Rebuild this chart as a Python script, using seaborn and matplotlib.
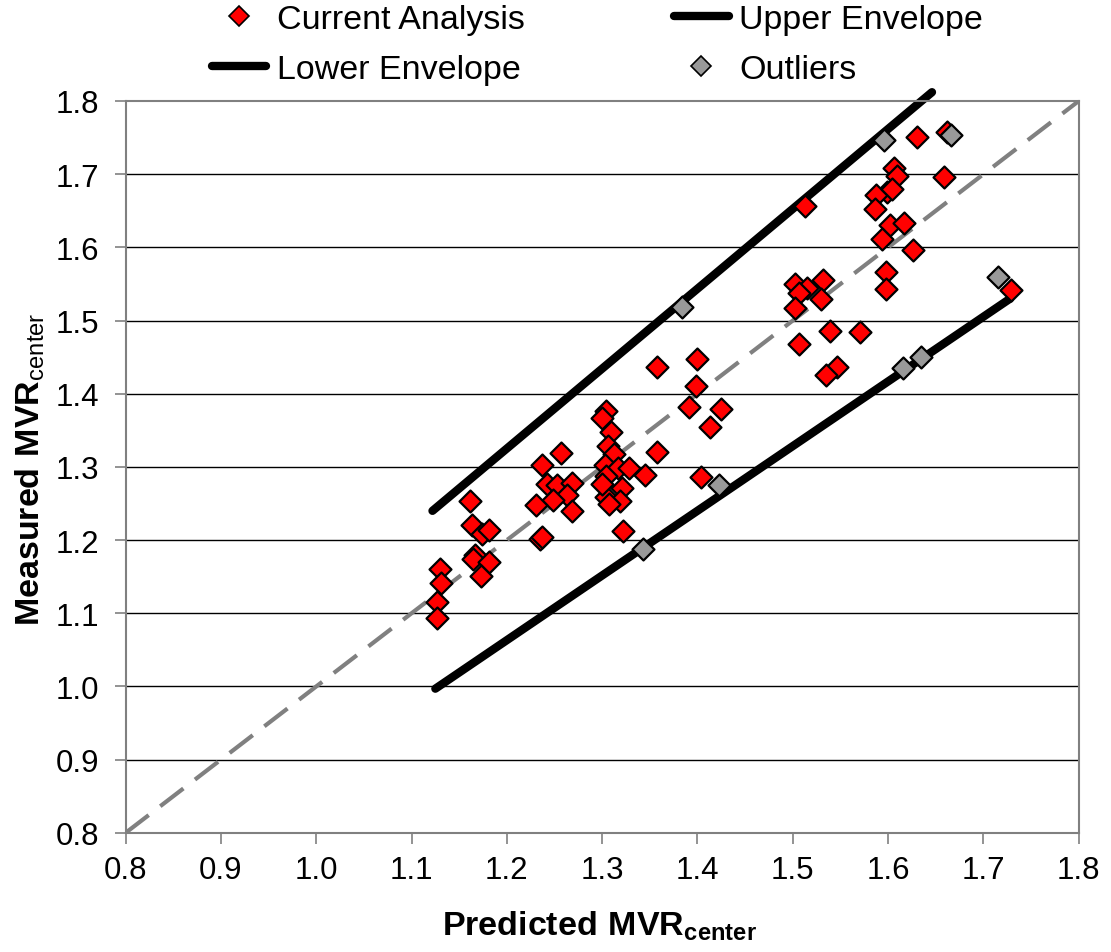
import matplotlib
matplotlib.use("Agg")
import matplotlib.pyplot as plt
from matplotlib.lines import Line2D
import seaborn as sns

# Current analysis: predicted vs measured MVR (center)
pred_current = [
    1.161, 1.163, 1.174, 1.181, 1.167, 1.165, 1.181, 1.173, 1.130, 1.131, 1.127, 1.127,
    1.358, 1.400, 1.398, 1.391, 1.425, 1.413, 1.304, 1.300, 1.309, 1.306, 1.312, 1.257,
    1.237, 1.358, 1.345, 1.404, 1.242, 1.253, 1.268, 1.263, 1.248, 1.231, 1.268, 1.235,
    1.237, 1.303, 1.317, 1.328, 1.304, 1.321, 1.304, 1.319, 1.307, 1.300, 1.322,
    1.626, 1.598, 1.598, 1.502, 1.532, 1.515, 1.507, 1.530, 1.502, 1.539, 1.570, 1.507,
    1.546, 1.535,
    1.630, 1.662, 1.606, 1.609, 1.659, 1.599, 1.587, 1.604, 1.586, 1.602, 1.617, 1.594,
    1.729, 1.513,
]
meas_current = [
    1.253, 1.221, 1.209, 1.214, 1.180, 1.174, 1.170, 1.151, 1.160, 1.141, 1.116, 1.093,
    1.436, 1.448, 1.411, 1.382, 1.379, 1.355, 1.377, 1.367, 1.348, 1.328, 1.318, 1.319,
    1.303, 1.321, 1.289, 1.286, 1.277, 1.275, 1.278, 1.261, 1.255, 1.248, 1.240, 1.202,
    1.204, 1.302, 1.298, 1.298, 1.288, 1.271, 1.259, 1.253, 1.250, 1.277, 1.212,
    1.596, 1.567, 1.543, 1.550, 1.555, 1.544, 1.537, 1.530, 1.517, 1.486, 1.484, 1.468,
    1.437, 1.425,
    1.751, 1.758, 1.708, 1.698, 1.696, 1.675, 1.671, 1.680, 1.652, 1.631, 1.633, 1.612,
    1.542, 1.656,
]

# Outliers
pred_outliers = [1.596, 1.666, 1.715, 1.384, 1.423, 1.343, 1.616, 1.634]
meas_outliers = [1.747, 1.754, 1.560, 1.519, 1.275, 1.188, 1.435, 1.450]

# Envelope lines (end points)
upper_x = [1.122, 1.646]
upper_y = [1.240, 1.812]
lower_x = [1.125, 1.728]
lower_y = [0.997, 1.530]

# 1:1 reference line
ref_x = [0.8, 1.8]
ref_y = [0.8, 1.8]

ticks = [0.8, 0.9, 1.0, 1.1, 1.2, 1.3, 1.4, 1.5, 1.6, 1.7, 1.8]
tick_labels = [f"{t:.1f}" for t in ticks]

sns.set_theme(style="white")
plt.rcParams["font.family"] = ["Liberation Sans", "DejaVu Sans"]
plt.rcParams["mathtext.fontset"] = "custom"
plt.rcParams["mathtext.rm"] = "Liberation Sans"
plt.rcParams["mathtext.bf"] = "Liberation Sans:bold"
plt.rcParams["text.color"] = "black"
plt.rcParams["axes.labelcolor"] = "black"

fig = plt.figure(figsize=(11.11, 9.53), dpi=100)
ax = fig.add_axes([0.113, 0.125, 0.858, 0.768])

spine_color = "#808080"
for s in ax.spines.values():
    s.set_color(spine_color)
    s.set_linewidth(1.5)

ax.set_xlim(0.8, 1.8)
ax.set_ylim(0.8, 1.8)
ax.set_xticks(ticks)
ax.set_yticks(ticks)
ax.set_xticklabels(tick_labels)
ax.set_yticklabels(tick_labels)
ax.tick_params(axis="both", direction="out", length=8, width=1.2, color=spine_color,
               labelsize=22.5, labelcolor="black", bottom=True, left=True)
ax.tick_params(axis="x", pad=8)
ax.tick_params(axis="y", pad=11)

# horizontal gridlines
for t in ticks[1:-1]:
    ax.axhline(t, color="black", lw=1.0, zorder=0.5)

# 1:1 dashed line
sns.lineplot(x=ref_x, y=ref_y, ax=ax, color="#808080", lw=3.0, zorder=1)
ax.lines[-1].set_dashes([7, 3.5])

# envelopes
sns.lineplot(x=upper_x, y=upper_y, ax=ax, color="black", lw=6.0, zorder=2,
             solid_capstyle="round", clip_on=False)
sns.lineplot(x=lower_x, y=lower_y, ax=ax, color="black", lw=6.0, zorder=2,
             solid_capstyle="round")

sns.scatterplot(x=pred_current, y=meas_current, ax=ax, marker="D", s=125,
                color="#ff0000", edgecolor="black", linewidth=1.6, zorder=4, legend=False)
sns.scatterplot(x=pred_outliers, y=meas_outliers, ax=ax, marker="D", s=125,
                color="#999999", edgecolor="black", linewidth=1.6, zorder=5, legend=False,
                clip_on=False)

ax.set_xlabel("")
ax.set_ylabel("")

fig.text(0.540, 0.028, r"$\mathbf{Predicted\ MVR}_{\mathbf{center}}$",
         ha="center", va="center", fontsize=24.5)
fig.text(0.027, 0.508, r"$\mathbf{Measured\ MVR}_{\mathrm{center}}$",
         ha="center", va="center", fontsize=24.5, rotation=90)

handles = [
    Line2D([], [], ls="none", marker="D", markersize=10.5, markerfacecolor="#ff0000",
           markeredgecolor="black", markeredgewidth=1.2),
    Line2D([], [], color="black", lw=6),
    Line2D([], [], color="black", lw=6),
    Line2D([], [], ls="none", marker="D", markersize=10.5, markerfacecolor="#999999",
           markeredgecolor="black", markeredgewidth=1.2),
]
labels = ["Current Analysis", "Lower Envelope", "Upper Envelope", "Outliers"]
fig.legend(handles, labels, ncol=2, loc="upper left", bbox_to_anchor=(212 / 1111, 1 - 5 / 953),
           frameon=False, fontsize=24.5, handlelength=1.6, handletextpad=0.3,
           columnspacing=4.4, labelspacing=0.55, borderpad=0, borderaxespad=0)

fig.savefig("out.png", dpi=100, facecolor="white")
